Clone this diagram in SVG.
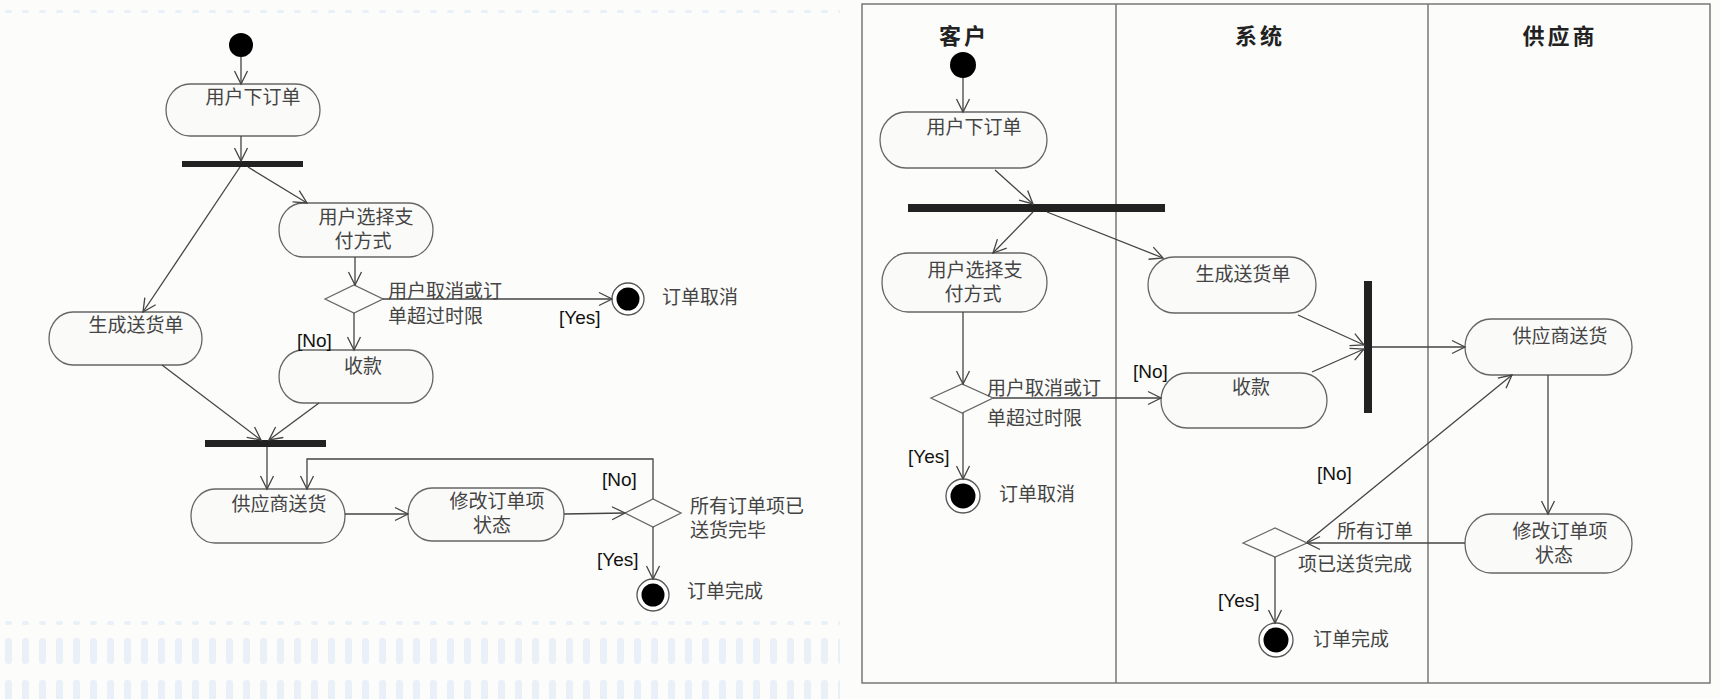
<svg xmlns="http://www.w3.org/2000/svg" width="1720" height="699" viewBox="0 0 1720 699">
<style>
.bg{fill:#fcfcfa}
.node{fill:#fafaf9;stroke:#666;stroke-width:1.3}
.dia{fill:#fcfcfa;stroke:#666;stroke-width:1.3}
.bar{fill:#222}
.t{font-family:"Noto Sans CJK SC","Liberation Sans",sans-serif;font-size:19px;fill:#444}
.tm{text-anchor:middle}
.g{font-family:"Liberation Sans",Arial,sans-serif;font-size:19px;fill:#111}
.h{font-family:"Noto Sans CJK SC",sans-serif;font-size:22px;font-weight:bold;fill:#222;text-anchor:middle;letter-spacing:3px}
.c{fill:none;stroke:#444;stroke-width:1.3}
.a{marker-end:url(#arr)}
.lane{fill:none;stroke:#777;stroke-width:1.5}
.fo{fill:#fff;stroke:#555;stroke-width:1.3}
</style>
<defs>
<marker id="arr" markerUnits="userSpaceOnUse" markerWidth="16" markerHeight="16" viewBox="0 0 16 16" refX="14" refY="8" orient="auto">
<path d="M1,1.5 L14,8 L1,14.5" fill="none" stroke="#444" stroke-width="1.3"/>
</marker>
<pattern id="pb" patternUnits="userSpaceOnUse" x="0" y="620" width="17" height="80">
<rect x="5" y="1" width="7" height="4" rx="2" fill="#e9f0f8"/>
<rect x="5" y="18" width="7" height="26" rx="3" fill="#e9f0f8"/>
<rect x="5" y="60" width="7" height="22" rx="3" fill="#e9f0f8"/>
</pattern>
<pattern id="pt" patternUnits="userSpaceOnUse" x="0" y="9" width="17" height="6">
<rect x="5" y="1" width="7" height="3" rx="1.5" fill="#eaf0f8"/>
</pattern>
</defs>
<rect class="bg" x="0" y="0" width="1720" height="699"/>
<rect x="0" y="9" width="840" height="6" fill="url(#pt)"/>
<rect x="0" y="620" width="840" height="79" fill="url(#pb)"/>

<!-- LEFT DIAGRAM -->
<g id="L-start"><circle cx="241" cy="45" r="12" fill="#000"/></g>
<g id="L-order"><rect class="node" x="166" y="84" width="154" height="52" rx="24" ry="26"/><text class="t tm" x="253" y="104">用户下订单</text></g>
<g id="L-fork"><rect class="bar" x="182" y="161" width="121" height="6"/></g>
<g id="L-pay"><rect class="node" x="279" y="203" width="154" height="54" rx="24" ry="27"/><text class="t tm" x="366" y="224">用户选择支</text><text class="t tm" x="363" y="248">付方式</text></g>
<g id="L-dec1"><polygon class="dia" points="325,299 354,285 383,299 354,313"/></g>
<g id="L-dec1-label"><text class="t" x="388" y="298">用户取消或订</text><text class="t" x="388" y="323">单超过时限</text></g>
<g id="L-cancel"><circle class="fo" cx="628" cy="299" r="16"/><circle cx="628" cy="299" r="11.5" fill="#000"/><text class="t" x="662" y="304">订单取消</text></g>
<g id="L-pay2"><rect class="node" x="279" y="350" width="154" height="53" rx="24" ry="26.5"/><text class="t tm" x="363" y="373">收款</text></g>
<g id="L-ship"><rect class="node" x="49" y="312" width="153" height="53" rx="24" ry="26.5"/><text class="t tm" x="136" y="332">生成送货单</text></g>
<g id="L-join"><rect class="bar" x="205" y="440" width="121" height="7"/></g>
<g id="L-deliver"><rect class="node" x="191" y="489" width="154" height="54" rx="24" ry="27"/><text class="t tm" x="279" y="511">供应商送货</text></g>
<g id="L-modify"><rect class="node" x="408" y="488" width="156" height="53" rx="24" ry="26.5"/><text class="t tm" x="497" y="508">修改订单项</text><text class="t tm" x="492" y="532">状态</text></g>
<g id="L-dec2"><polygon class="dia" points="625,513 653,499 681,513 653,527"/></g>
<g id="L-dec2-label"><text class="t" x="690" y="513">所有订单项已</text><text class="t" x="690" y="537">送货完毕</text></g>
<g id="L-done"><circle class="fo" cx="653" cy="595" r="16"/><circle cx="653" cy="595" r="11.5" fill="#000"/><text class="t" x="687" y="598">订单完成</text></g>

<!-- RIGHT DIAGRAM -->
<g id="R-frame">
<rect class="lane" x="862" y="4" width="848" height="679"/>
<line class="lane" x1="1116" y1="4" x2="1116" y2="683"/>
<line class="lane" x1="1428" y1="4" x2="1428" y2="683"/>
<text class="h" x="964" y="44">客户</text>
<text class="h" x="1260" y="44">系统</text>
<text class="h" x="1560" y="44">供应商</text>
</g>
<g id="R-start"><circle cx="963" cy="65" r="13" fill="#000"/></g>
<g id="R-order"><rect class="node" x="880" y="112" width="167" height="56" rx="26" ry="28"/><text class="t tm" x="974" y="134">用户下订单</text></g>
<g id="R-fork"><rect class="bar" x="908" y="204" width="257" height="8"/></g>
<g id="R-pay"><rect class="node" x="882" y="253" width="165" height="59" rx="26" ry="29.5"/><text class="t tm" x="975" y="277">用户选择支</text><text class="t tm" x="973" y="301">付方式</text></g>
<g id="R-ship"><rect class="node" x="1148" y="257" width="168" height="56" rx="26" ry="28"/><text class="t tm" x="1243" y="281">生成送货单</text></g>
<g id="R-dec1"><polygon class="dia" points="931,398 962,384 993,398 962,413"/></g>
<g id="R-dec1-label"><text class="t" x="987" y="395">用户取消或订</text><text class="t" x="987" y="425">单超过时限</text></g>
<g id="R-pay2"><rect class="node" x="1161" y="373" width="166" height="55" rx="26" ry="27.5"/><text class="t tm" x="1251" y="394">收款</text></g>
<g id="R-cancel"><circle class="fo" cx="963" cy="496" r="17"/><circle cx="963" cy="496" r="12.5" fill="#000"/><text class="t" x="999" y="501">订单取消</text></g>
<g id="R-join"><rect class="bar" x="1364" y="281" width="8" height="132"/></g>
<g id="R-deliver"><rect class="node" x="1465" y="319" width="167" height="56" rx="26" ry="28"/><text class="t tm" x="1560" y="343">供应商送货</text></g>
<g id="R-modify"><rect class="node" x="1465" y="514" width="167" height="59" rx="26" ry="29.5"/><text class="t tm" x="1560" y="538">修改订单项</text><text class="t tm" x="1554" y="562">状态</text></g>
<g id="R-dec2"><polygon class="dia" points="1243,543 1275,528 1307,543 1275,557"/></g>
<g id="R-dec2-label"><text class="t" x="1337" y="538">所有订单</text><text class="t" x="1298" y="571">项已送货完成</text></g>
<g id="R-done"><circle class="fo" cx="1276" cy="640" r="17"/><circle cx="1276" cy="640" r="12.5" fill="#000"/><text class="t" x="1313" y="646">订单完成</text></g>

<!-- CONNECTORS -->
<g id="connectors">
<line class="c a" x1="241" y1="57" x2="241" y2="84"/>
<line class="c a" x1="241" y1="136" x2="241" y2="161"/>
<line class="c a" x1="240" y1="167" x2="143" y2="312"/>
<line class="c a" x1="248" y1="167" x2="307" y2="203"/>
<line class="c a" x1="355" y1="257" x2="355" y2="285"/>
<line class="c a" x1="383" y1="299" x2="612" y2="299"/>
<line class="c a" x1="354" y1="313" x2="354" y2="350"/>
<line class="c a" x1="162" y1="365" x2="261" y2="440"/>
<line class="c a" x1="319" y1="403" x2="269" y2="440"/>
<line class="c a" x1="267" y1="447" x2="267" y2="489"/>
<polyline class="c a" points="653,499 653,459 307,459 307,489"/>
<line class="c a" x1="345" y1="514" x2="408" y2="514"/>
<line class="c a" x1="564" y1="514" x2="625" y2="513"/>
<line class="c a" x1="653" y1="527" x2="653" y2="579"/>

<line class="c a" x1="963" y1="78" x2="963" y2="112"/>
<line class="c a" x1="995" y1="170" x2="1033" y2="204"/>
<line class="c a" x1="1033" y1="212" x2="993" y2="253"/>
<line class="c a" x1="1047" y1="212" x2="1163" y2="258"/>
<line class="c a" x1="963" y1="312" x2="963" y2="384"/>
<line class="c a" x1="993" y1="398" x2="1161" y2="398"/>
<line class="c a" x1="963" y1="413" x2="963" y2="479"/>
<line class="c a" x1="1298" y1="315" x2="1364" y2="345"/>
<line class="c a" x1="1312" y1="372" x2="1364" y2="349"/>
<line class="c a" x1="1372" y1="347" x2="1465" y2="347"/>
<line class="c a" x1="1548" y1="375" x2="1548" y2="514"/>
<line class="c a" x1="1465" y1="543" x2="1307" y2="543"/>
<line class="c a" x1="1307" y1="542" x2="1512" y2="375"/>
<line class="c a" x1="1275" y1="557" x2="1275" y2="623"/>
</g>

<g id="guards">
<text class="g" x="559" y="324">[Yes]</text>
<text class="g" x="297" y="347">[No]</text>
<text class="g" x="602" y="486">[No]</text>
<text class="g" x="597" y="566">[Yes]</text>
<text class="g" x="1133" y="378">[No]</text>
<text class="g" x="908" y="463">[Yes]</text>
<text class="g" x="1317" y="480">[No]</text>
<text class="g" x="1218" y="607">[Yes]</text>
</g>
</svg>
